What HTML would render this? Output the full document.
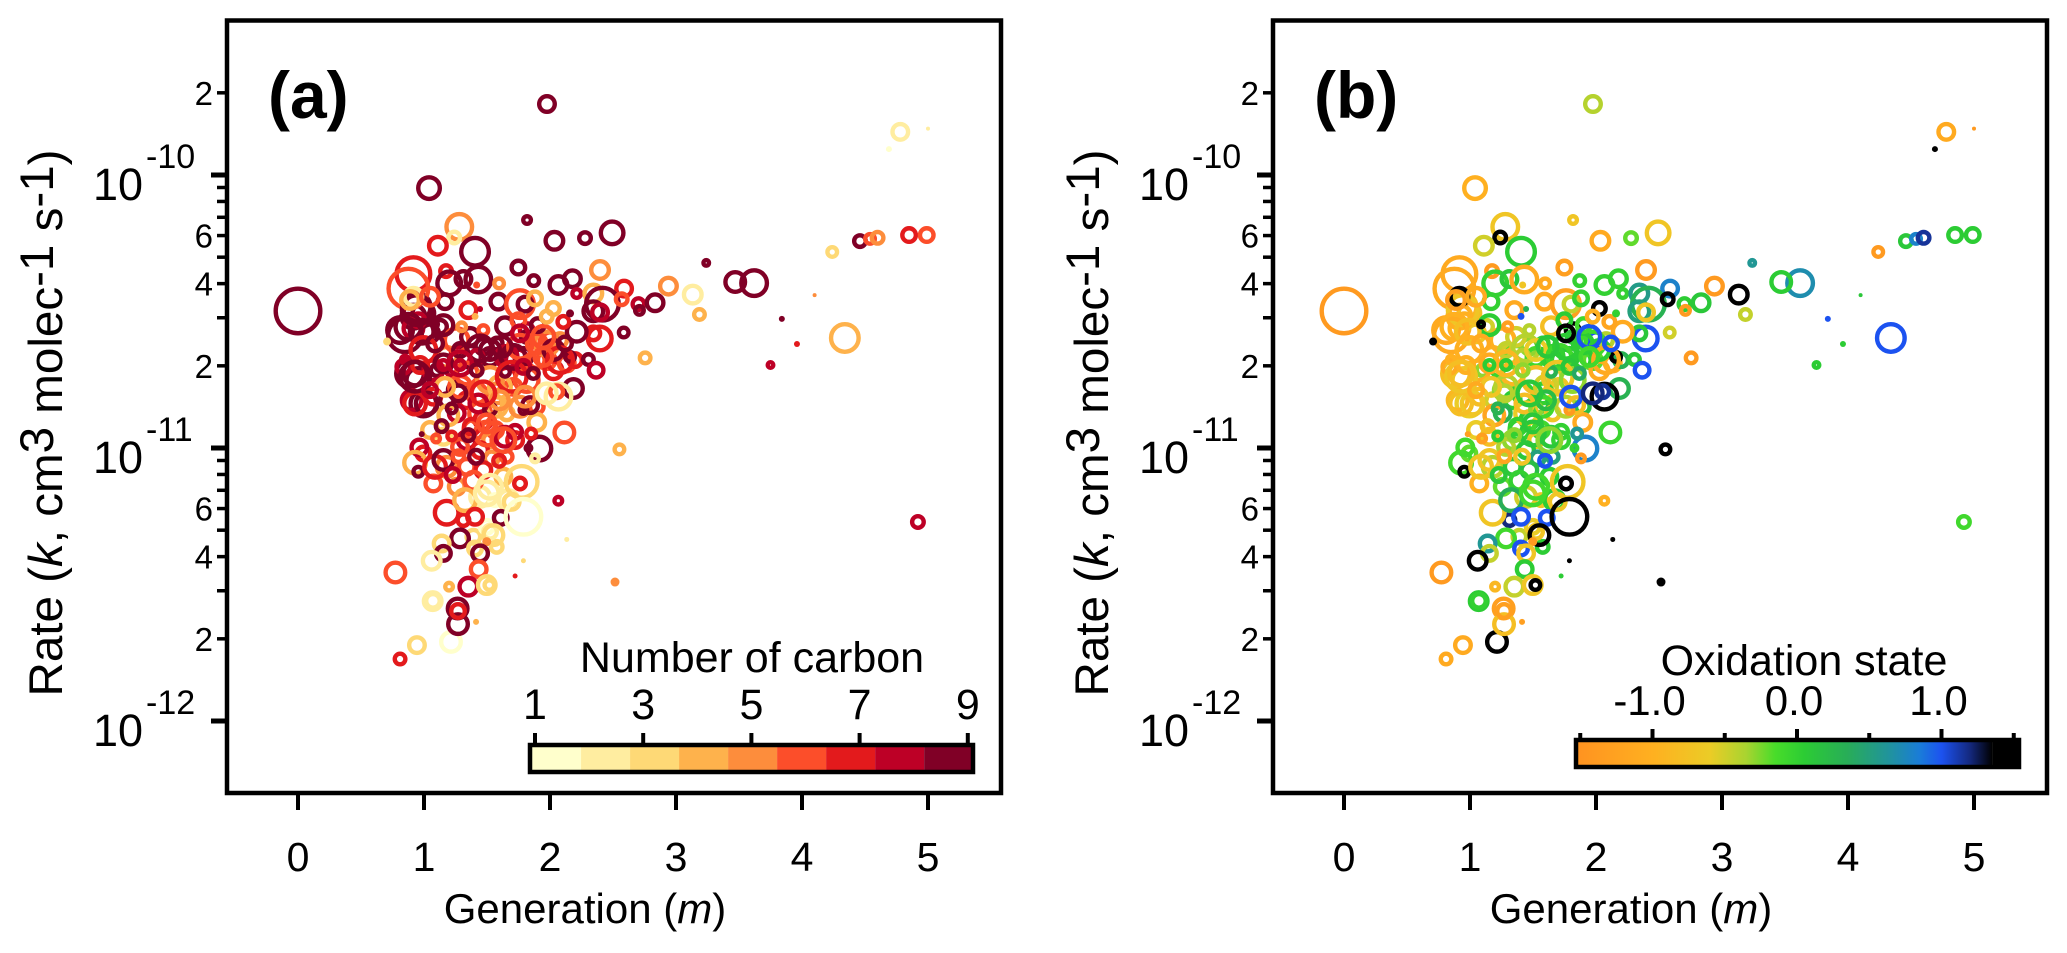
<!DOCTYPE html>
<html lang="en">
<head>
<meta charset="utf-8">
<title>Rate versus generation scatter plots</title>
<style>
html,body{margin:0;padding:0;background:#fff;width:2067px;height:953px;overflow:hidden}
svg{display:block}
text{font-family:"Liberation Sans",sans-serif;fill:#000}
</style>
</head>
<body>
<svg id="chart" xmlns="http://www.w3.org/2000/svg" width="2067" height="953" viewBox="0 0 2067 953"></svg>
<script>
const generation = [
.942,.916,.995,.81,.916,1.048,1.127,.955,.889,.955,.836,.995,.902,1.074,1.18,1.26,1.101,1.22,1.286,1.365,
1.471,1.524,1.418,1.577,1.67,1.736,1.789,1.656,1.709,1.895,1.974,2.027,2.133,2.199,2.159,2.0,2.08,1.868,1.815,1.815,
1.577,1.551,1.656,1.418,1.339,1.26,1.471,1.392,1.564,1.524,1.339,1.723,1.762,1.895,1.154,1.048,.995,1.286,1.445,1.537,
1.656,1.18,1.339,1.471,1.074,1.26,1.63,1.445,1.564,1.67,1.313,1.392,1.498,1.577,
1.18,1.339,1.524,1.603,1.286,1.445,1.577,1.498,1.193,1.815,1.974,1.895,1.656,1.259,1.074,1.696,1.524,
1.28,1.24,1.11,1.405,.916,.876,1.175,1.2,1.313,1.431,
1.418,1.596,1.818,2.035,2.278,2.493,1.749,1.871,2.067,2.178,
2.212,2.397,2.588,2.344,2.416,2.344,2.397,2.569,2.702,2.71,
2.834,2.94,3.133,3.186,2.585,2.755,2.551,2.305,2.366,2.395,
2.344,2.186,2.067,2.053,2.114,1.916,1.895,1.85,1.881,1.352,
1.445,1.405,1.167,1.59,1.762,1.802,1.881,2.027,1.903,1.643,
1.749,1.365,1.471,1.299,1.154,.942,.916,.889,1.048,.849,
.876,.982,.707,1.088,.995,1.088,1.286,1.445,1.524,
.969,.849,1.154,1.286,1.286,1.154,1.418,1.709,1.643,1.696,
1.762,1.617,1.789,2.027,2.08,1.947,1.947,1.868,2.212,2.119,
2.106,2.159,1.974,1.762,1.842,1.789,1.802,1.974,1.432,1.524,
1.603,1.471,1.273,1.22,1.167,1.021,.929,.929,.929,1.048,
1.14,1.22,1.096,.982,.963,1.379,1.352,1.498,1.643,1.723,
1.63,1.829,.929,.955,1.088,1.154,1.273,1.413,1.596,1.228,
1.392,1.775,1.762,1.524,1.18,1.326,
1.498,1.405,1.609,1.789,
1.286,1.14,1.154,1.061,1.405,1.551,1.498,1.445,1.434,.773,1.199,1.352,1.498,1.519,1.069,1.267,
1.723,1.789,2.133,2.516,2.066,
1.976,1.04,4.78,4.69,5.0,4.85,4.99,4.46,4.54,4.6,
4.24,4.34,3.75,3.96,4.1,3.62,3.84,3.24,3.47,4.92,
0,.81,.944,1.214,1.27,1.27,1.071,1.413
];
const logRate = [
-10.483,-10.519,-10.507,-10.568,-10.562,-10.58,-10.556,-10.532,-10.727,-10.751,-10.703,-10.837,-10.825,-10.812,-10.825,-10.788,-10.715,-10.715,-10.666,-10.666,
-10.629,-10.666,-10.666,-10.617,-10.678,-10.678,-10.666,-10.739,-10.776,-10.678,-10.678,-10.715,-10.69,-10.678,-10.666,-10.605,-10.605,-10.605,-10.568,-10.593,
-10.8,-10.837,-10.873,-10.8,-10.825,-10.873,-10.898,-10.934,-10.934,-10.971,-10.971,-10.971,-10.849,-10.849,-10.959,-10.934,-11.02,-10.996,-11.008,-11.038,
-11.032,-11.069,-11.069,-11.081,-11.13,-11.142,-11.105,-11.179,-11.191,-11.191,-11.264,-11.325,-11.289,-11.362,
-10.666,-10.727,-10.751,-10.776,-10.776,-10.873,-10.849,-10.947,-10.88,-10.751,-10.617,-10.617,-10.666,-10.605,-10.715,-11.197,-11.307,
-10.19,-10.229,-10.259,-10.281,-10.363,-10.416,-10.352,-10.397,-10.381,-10.383,
-10.403,-10.397,-10.165,-10.241,-10.231,-10.212,-10.339,-10.387,-10.403,-10.38,
-10.434,-10.348,-10.416,-10.434,-10.473,-10.499,-10.503,-10.455,-10.473,-10.496,
-10.468,-10.407,-10.438,-10.511,-10.577,-10.67,-11.005,-10.676,-10.715,-10.599,
-10.58,-10.782,-10.812,-10.794,-10.943,-11.002,-10.906,-10.947,-11.038,-10.495,
-10.491,-10.518,-10.464,-10.464,-10.473,-10.473,-10.452,-10.489,-10.55,-10.554,
-10.532,-10.593,-10.568,-10.556,-10.55,-10.495,-10.446,-10.458,-10.446,-10.587,
-10.556,-10.574,-10.61,-10.547,-10.641,-10.617,-10.641,-10.635,-10.641,
-10.696,-10.676,-10.69,-10.69,-10.696,-10.696,-10.715,-10.666,-10.721,-10.739,
-10.629,-10.629,-10.703,-10.641,-10.678,-10.593,-10.666,-10.727,-10.574,-10.617,
-10.538,-10.507,-10.519,-10.58,-10.843,-10.861,-10.812,-10.8,-10.837,-10.858,
-10.825,-10.8,-10.8,-10.855,-10.776,-10.837,-10.837,-10.739,-10.727,-10.788,
-10.92,-10.956,-10.965,-10.949,-10.998,-10.922,-10.953,-10.91,-10.959,-10.941,
-10.971,-11.0,-11.054,-11.087,-11.069,-11.044,-11.03,-11.032,-11.047,-11.099,
-11.12,-11.124,-11.13,-11.142,-11.237,-11.191,
-11.166,-11.252,-11.256,-11.252,
-11.331,-11.35,-11.386,-11.413,-11.368,-11.319,-11.343,-11.386,-11.444,-11.456,-11.508,-11.508,-11.502,-11.502,-11.561,-11.588,
-11.469,-11.413,-11.335,-11.491,-11.193,
-9.74,-10.048,-9.842,-9.905,-9.83,-10.22,-10.22,-10.242,-10.234,-10.23,
-10.282,-10.597,-10.696,-10.619,-10.44,-10.396,-10.527,-10.322,-10.392,-11.271,
-10.498,-11.773,-11.722,-11.71,-11.645,-11.597,-11.56,-11.637
];
const markerSize = [
16,14,13,15,12,11,9,9,16,14,9,15,12,10,9,11,8,8,12,13,
10,11,9,8,10,13,11,11,10,10,11,11,10,9,7,10,9,9,9,8,
12,11,9,12,10,10,11,12,10,9,11,10,12,9,10,10,9,10,10,9,
8,12,10,10,10,10,10,12,8,12,8,9,9,8,
12,13,15,13,13,13,12,14,12,14,14,12,13,14,12,10,9,
15,8,11,16,19,22,8,14,10,15,
3.5,7,6,11,8,13.5,9,7.5,11,10.5,
6.5,11,10,11,18.5,12,10,8,8,6.5,
10.5,10.5,11,7.5,7,7.5,7,7.5,9.5,14,
9,11.5,15,8.5,12,14,10.5,7,6,10,
3,3.5,9.5,10,16,9.5,9,8.5,9,11,
9,11,7,6.5,12,17,11,11,11,19,
15,14,4,5,15,10,9,15,12,
10,6,11,14,7,7,8,14,7,17,
14,12,9,12,15,13,11,7.5,12,9,
8,4,8,10,10,6,12,12,11,8,
11,14,10,7,11,13,13,17,14,9,
8,6.5,6,3,10,10,8,11,12,9,
14,5,13,7,13,12,8,9,8,9,
11,18,8,14,14,13,
14,10,9,20,
11,10,9.5,11,9,12,4.5,10,10,12,6,11,11,7,11,12,
2.5,2.5,2.5,4.5,6,
10,13,10,3,2,9,9,8,7,8,
7,16,5,3,2,15,3,5,12,8,
24.5,7.5,10,12,12,9,9,3
];
const carbonNumber = [
9,9,9,9,8,9,9,8,9,9,8,9,8,7,9,9,9,8,8,9,
9,9,8,9,9,8,9,7,6,6,6,7,6,7,9,6,5,6,8,9,
5,4,4,6,7,8,7,6,6,5,8,7,5,6,3,4,7,6,7,5,
6,5,6,7,6,5,4,2,1,2,7,3,1,3,
5,6,5,4,6,6,4,6,4,6,5,6,8,6,8,3,2,
5,2,7,9,7,6,7,9,9,9,
6,5,9,9,9,9,9,9,9,9,
8,5,7,4,9,9,8,6,8,9,
9,5,2,4,9,4,4,9,8,7,
7,9,2,6,6,9,4,7,2,7,
8,4,9,9,6,9,4,4,9,9,
6,9,6,5,9,9,2,4,6,9,
9,9,3,9,7,9,9,9,9,
7,8,9,8,8,8,9,9,9,7,
6,9,8,9,7,6,6,9,9,9,
7,9,4,8,9,9,5,2,8,9,
5,7,9,9,4,9,7,9,9,8,
9,7,6,9,8,7,9,6,8,8,
6,9,4,9,7,9,6,9,7,8,
6,3,7,2,7,4,
2,7,9,1,
9,3,9,2,3,3,5,9,6,6,4,8,3,3,2,9,
7,3,2,5,8,
9,9,2,1,2,7,6,9,6,5,
3,4,8,7,5,9,9,9,9,8,
9,7,3,1,9,7,2,4
];
const oxidationState = [
-0.9,-1,-0.8,-1.1,-1,-0.7,-0.5,-1,-0.8,-0.7,-1.1,-0.6,-0.9,-0.8,-0.5,-0.3,-0.3,-0.05,-0.5,-0.2,
-0.3,-0.1,-0.4,0,0.05,0,0.1,-0.5,-0.7,0.05,-0.2,-1.1,-1,0.3,1.5,1,-0.4,-0.1,1.5,0.1,
0,0.1,-0.7,0,0.05,0.3,0.05,0,-0.1,-0.7,-0.3,0,-0.4,0.2,-0.8,-0.6,-0.2,-0.4,0.1,0.5,
0.5,-0.4,0.1,0.2,-1,-0.2,0.05,-0.5,-0.7,0.05,1.2,-0.45,-0.6,0.05,
-0.9,-0.9,-0.8,-0.5,-0.4,-0.6,-0.1,0.1,-1.2,-0.3,-0.1,0.05,0,-1,-1,-0.7,-0.7,
-0.7,1.5,-0.5,0.05,-1.1,-1.1,-1.4,0,0.1,-1.1,
-0.7,-1.1,-0.7,-1.1,-0.2,-0.7,-1.3,0,0,0,
0,-1.4,0.8,0.55,0.3,0.5,-0.7,1.5,0.05,-1.4,
0.1,-1.4,1.5,-0.45,-0.5,-1.4,1.5,0.1,1,1,
0.1,0.3,1.5,1.15,-0.05,0.8,-1.1,0.6,-1.4,-1.1,
0.3,1,0,-1.1,-1.3,-0.45,0,1.5,-0.1,-0.8,
0.05,-0.5,-0.4,-1.3,0.05,-0.7,1.5,-1.3,-1.1,-1.1,
-1,-0.8,1.5,1.5,-1,-1.1,-0.45,-0.4,-0.6,
-1,-1,-1.1,-0.9,0.05,0.05,-0.3,-0.1,0.3,-0.7,
0.05,0.1,0.1,0.05,-1.1,1,-0.1,0.4,-1.1,1,
-1.2,0,-1,1.5,-0.8,-1.4,1,1.2,-0.8,-0.3,
0.2,0.1,-0.4,0.3,-0.7,-0.7,-0.8,-0.7,-0.8,-1.1,
-0.8,0.05,-1.3,-1.3,-0.1,0,-0.3,0.1,0.1,0,
-0.3,0,-0.1,1.5,-0.7,-0.7,-1.2,-0.7,1,0.1,
0,-0.7,1.5,-0.1,-0.7,0.35,
-0.1,1,1,1.5,
-0.1,0.6,-0.45,1.5,1,1.5,-1.4,-0.7,0.05,-1.4,-0.9,-0.45,-0.7,1.5,0.05,-1.3,
0.05,1.5,1.5,1.5,-1,
-0.4,-1,-1.1,1.5,-1.4,0.05,0.05,0.1,0.8,1.15,
-1.4,1,0.05,0.05,0.1,0.7,1,0.6,0.05,-0.1,
-1.4,-1.1,-1.1,1.5,-0.8,-1.3,0,-1.3
];
const generationTicks = [0,1,2,3,4,5];
const rateDecades = [-10,-11,-12];
const rateMantissas = [2,3,4,5,6,7,8,9];
const labelledMantissas = [2,4,6];
const carbonTicks = [1,3,5,7,9];
const carbonColors = ['#ffffcc','#ffeda0','#fed976','#feb24c','#fd8d3c','#fc4e2a','#e31a1c','#bd0026','#800026'];
const oxidationMajorTicks = [-1,0,1];
const oxidationMinorTicks = [-1.5,-0.5,0.5,1.5];
const oxidationStops = [-1.5,-1,-0.6,-0.35,-0.15,0.05,0.35,0.65,0.85,1,1.2,1.35];
const oxidationColors = ['#ff9420','#ffb020','#ebcc26','#a8d430','#48dc2a','#2ccc34','#28ad58','#2092a0','#1a7cd8','#1c52f0','#14287c','#000000'];

const svg = document.getElementById('chart');
const NS = 'http://www.w3.org/2000/svg';

function xAxis(m, off){ return off + 298 + m * 126; }
function yAxis(logK){ return 448 - (logK + 11) * 273; }
function carbonAxis(c){ return 535 + (c - 1) * 54.1; }
function oxidationAxis(v){ return 1797 + v * 144.5; }
function hexToRgb(h){ return [1,3,5].map(i => parseInt(h.substr(i,2),16)); }
function oxidationColor(v){
  if (v <= oxidationStops[0]) return oxidationColors[0];
  for (let i = 1; i < oxidationStops.length; i++) {
    if (v <= oxidationStops[i]) {
      const t = (v - oxidationStops[i-1]) / (oxidationStops[i] - oxidationStops[i-1]);
      const a = hexToRgb(oxidationColors[i-1]);
      const b = hexToRgb(oxidationColors[i]);
      return 'rgb(' + a.map((c,j) => Math.round(c + (b[j]-c)*t)).join(',') + ')';
    }
  }
  return '#000000';
}
function make(tag, attrs, parent){
  const el = document.createElementNS(NS, tag);
  for (const k in attrs) el.setAttribute(k, attrs[k]);
  (parent || svg).appendChild(el);
  return el;
}
function line(x1,y1,x2,y2,w,name){
  const el = make('line',{x1:x1,y1:y1,x2:x2,y2:y2,stroke:'#000','stroke-width':w});
  
  
  return el;
}
function label(x,y,size,anchor,str,name,extra){
  const el = make('text',Object.assign({x:x,y:y,'font-size':size,'text-anchor':anchor},extra||{}));
  el.textContent = str;
  
  
  return el;
}

function drawPanel(off, colorOf, panelName, letter){
  const g = make('g',{});
  
  
  generation.forEach((m,i) => {
    const cx = xAxis(m, off), cy = yAxis(logRate[i]), r = markerSize[i], col = colorOf(i);
    let c;
    if (r <= 4.5) c = make('circle',{cx:cx,cy:cy,r:r,fill:col},g);
    else c = make('circle',{cx:cx,cy:cy,r:r-2.2,fill:'none',stroke:col,'stroke-width':4.4},g);
    
    
  });
  const frame = make('rect',{x:off+227,y:20.5,width:774,height:772.5,fill:'none',stroke:'#000','stroke-width':4.5});
  
  

  generationTicks.forEach(t => {
    const x = xAxis(t, off);
    line(x,793,x,810,4,'x-tick');
    label(x,871,41,'middle',String(t),'x-tick-label');
  });
  rateDecades.forEach(d => {
    const yd = yAxis(d);
    line(off+211,yd,off+227,yd,5,'y-major-tick');
    label(off+143,yd+25,45,'end','10','y-decade-label');
    label(off+146,yd-7,34,'start','-' + Math.abs(d),'y-decade-exponent');
    rateMantissas.forEach(mant => {
      const logK = d + Math.log10(mant);
      if (logK > -9.6) return;
      const y = yAxis(logK);
      line(off+217,y,off+227,y,3.5,'y-minor-tick');
      if (labelledMantissas.includes(mant)) label(off+213,y+12,33,'end',String(mant),'y-tick-label');
    });
  });

  const xt = make('text',{x:off+585,y:923,'font-size':42,'text-anchor':'middle'});
  
  
  xt.innerHTML = 'Generation (<tspan font-style="italic">m</tspan>)';

  const yt = make('text',{x:0,y:0,'font-size':47,'text-anchor':'middle',transform:'translate(' + (off+62) + ',423) rotate(-90)',textLength:547,lengthAdjust:'spacingAndGlyphs'});
  
  
  yt.innerHTML = 'Rate (<tspan font-style="italic">k</tspan>, cm<tspan dy="-9">3</tspan><tspan dy="9"> molec</tspan><tspan dy="-9">-1</tspan><tspan dy="9"> s</tspan><tspan dy="-9">-1</tspan><tspan dy="9">)</tspan>';

  label(off+268,118,66,'start',letter,panelName + '-letter',{'font-weight':'bold'});
}

drawPanel(0, i => carbonColors[carbonNumber[i]-1], 'panel-a', '(a)');
drawPanel(1046, i => oxidationColor(oxidationState[i]), 'panel-b', '(b)');

/* carbon colour bar */
carbonColors.forEach((c,i) => {
  const lo = carbonAxis(0.945 + i * 0.906), hi = carbonAxis(0.945 + (i + 1) * 0.906);
  const seg = make('rect',{x:lo,y:745,width:hi-lo,height:27,fill:c});
  
  
});
const cbA = make('rect',{x:530,y:745,width:443,height:27,fill:'none',stroke:'#000','stroke-width':4.5});


carbonTicks.forEach(c => {
  const x = carbonAxis(c);
  line(x,733,x,745,4,'carbon-colorbar-tick');
  label(x,719,43,'middle',String(c),'carbon-colorbar-label');
});
label(752,672,43,'middle','Number of carbon','carbon-colorbar-title');

/* oxidation colour bar */
const defs = make('defs',{});
const grad = make('linearGradient',{id:'oxGrad',x1:0,x2:1,y1:0,y2:0},defs);
const barLo = -1.54, barHi = 1.35;
oxidationStops.forEach((v,i) => {
  make('stop',{offset:Math.max(0,(v-barLo)/(barHi-barLo)),'stop-color':oxidationColors[i]},grad);
});
const cbB = make('rect',{x:oxidationAxis(barLo),y:740,width:oxidationAxis(barHi)-oxidationAxis(barLo),height:27,fill:'url(#oxGrad)'});


const cbBlack = make('rect',{x:oxidationAxis(barHi),y:738,width:2021-oxidationAxis(barHi),height:31,fill:'#000'});


const cbF = make('rect',{x:1576,y:740,width:443,height:27,fill:'none',stroke:'#000','stroke-width':4.5});


oxidationMajorTicks.forEach(v => {
  const x = oxidationAxis(v);
  line(x,729,x,740,4,'oxidation-colorbar-tick');
  label(x-3,715,42,'middle',v.toFixed(1),'oxidation-colorbar-label');
});
oxidationMinorTicks.forEach(v => {
  const x = oxidationAxis(v);
  line(x,733,x,740,4,'oxidation-colorbar-minor-tick');
});
label(1804,675,43,'middle','Oxidation state','oxidation-colorbar-title');
</script>
</body>
</html>
